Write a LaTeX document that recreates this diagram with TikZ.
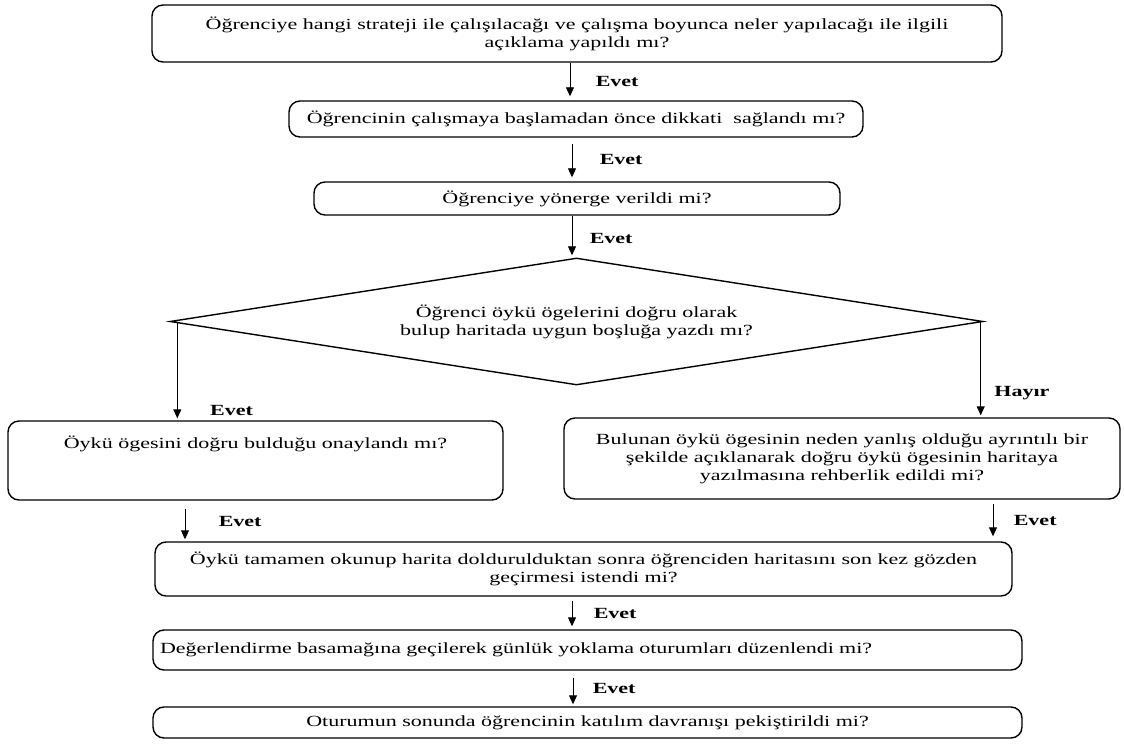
\documentclass[tikz,border=0pt]{standalone}
\usepackage{fontspec}
\setmainfont{Liberation Serif}[FakeStretch=1.42]
\usepackage{tikz}
\usetikzlibrary{positioning, arrows.meta, shapes.geometric}
\newcommand{\yazi}{\fontsize{15.5}{18}\selectfont}
\tikzset{
  kutu/.style={draw, line width=1.4pt, rounded corners=11pt, align=center, inner sep=4pt},
  karar/.style={draw, diamond, line width=1.4pt, aspect=6.4, inner sep=0pt, align=center},
  ok/.style={-{Triangle[length=9pt,width=8pt]}, line width=0.9pt, shorten >=2pt},
  etiket/.style={font=\yazi\bfseries}
}
\begin{document}
\begin{tikzpicture}[x=1pt, y=-1pt, font=\yazi]
\useasboundingbox (0,0) rectangle (1124,751);
% Akis semasi: sorular ve karar
\node[kutu, minimum width=850pt, minimum height=57pt] (soru1) at (577,33.5)
  {Öğrenciye hangi strateji ile çalışılacağı ve çalışma boyunca neler yapılacağı ile ilgili\\açıklama yapıldı mı?};
\node[kutu, minimum width=574pt, minimum height=36pt] (soru2) at (576,119)
  {Öğrencinin çalışmaya başlamadan önce dikkati\ \ sağlandı mı?};
\node[kutu, minimum width=526pt, minimum height=33pt] (soru3) at (577,198.5)
  {Öğrenciye yönerge verildi mi?};
\node[karar, minimum width=813pt, minimum height=127pt] (karar) at (576.5,321.5)
  {Öğrenci öykü ögelerini doğru olarak\\bulup haritada uygun boşluğa yazdı mı?};
\node[kutu, minimum width=495pt, text height=23pt, text depth=48pt] (evetkutu) at (255.5,460.5)
  {Öykü ögesini doğru bulduğu onaylandı mı?};
\node[kutu, minimum width=556pt, minimum height=81pt] (hayirkutu) at (842,458.5)
  {Bulunan öykü ögesinin neden yanlış olduğu ayrıntılı bir\\şekilde açıklanarak doğru öykü ögesinin haritaya\\yazılmasına rehberlik edildi mi?};
\node[kutu, minimum width=857pt, minimum height=54pt] (soru6) at (583.5,569)
  {Öykü tamamen okunup harita doldurulduktan sonra öğrenciden haritasını son kez gözden\\geçirmesi istendi mi?};
\node[kutu, align=left, inner xsep=7pt, text width=855pt, minimum height=40pt] (soru7) at (587.5,650)
  {Değerlendirme basamağına geçilerek günlük yoklama oturumları düzenlendi mi?};
\node[kutu, minimum width=869pt, minimum height=31pt] (soru8) at (587.5,722.5)
  {Oturumun sonunda öğrencinin katılım davranışı pekiştirildi mi?};

% oklar
\draw[ok, shorten >=4pt] ([xshift=-7pt]soru1.south) -- ([xshift=-7pt]soru1.south |- soru2.north)
  node[etiket, midway, right=22pt] {Evet};
\draw[ok, shorten <=6pt, shorten >=4pt] ([xshift=-4pt]soru2.south) -- ([xshift=-4pt]soru2.south |- soru3.north)
  node[etiket, midway, right=24pt] {Evet};
\draw[ok] ([xshift=-5pt]soru3.south) -- ([xshift=-5pt]soru3.south |- karar.north)
  node[etiket, pos=0.55, right=14pt] {Evet};
\draw[ok] ([xshift=8pt]karar.west) -- ([xshift=8pt]karar.west |- evetkutu.north)
  node[etiket, pos=0.9, right=29pt] {Evet};
\draw[ok] ([xshift=-3pt]karar.east) -- ([xshift=-3pt]karar.east |- hayirkutu.north)
  node[etiket, pos=0.75, right=10pt] {Hayır};
\draw[ok, shorten <=8pt] ([xshift=-70.5pt]evetkutu.south) -- ([xshift=-70.5pt]evetkutu.south |- soru6.north)
  node[etiket, midway, right=30pt] {Evet};
\draw[ok, shorten <=4pt, shorten >=5pt] ([xshift=151pt]hayirkutu.south) -- ([xshift=151pt]hayirkutu.south |- soru6.north)
  node[etiket, midway, right=17pt] {Evet};
\draw[ok, shorten <=4pt, shorten >=3pt] ([xshift=-11.5pt]soru6.south) -- ([xshift=-11.5pt]soru6.south |- soru7.north)
  node[etiket, midway, right=18pt] {Evet};
\draw[ok, shorten <=7pt] ([xshift=-14.5pt]soru7.south) -- ([xshift=-14.5pt]soru7.south |- soru8.north)
  node[etiket, midway, right=16pt] {Evet};
\end{tikzpicture}
\end{document}
